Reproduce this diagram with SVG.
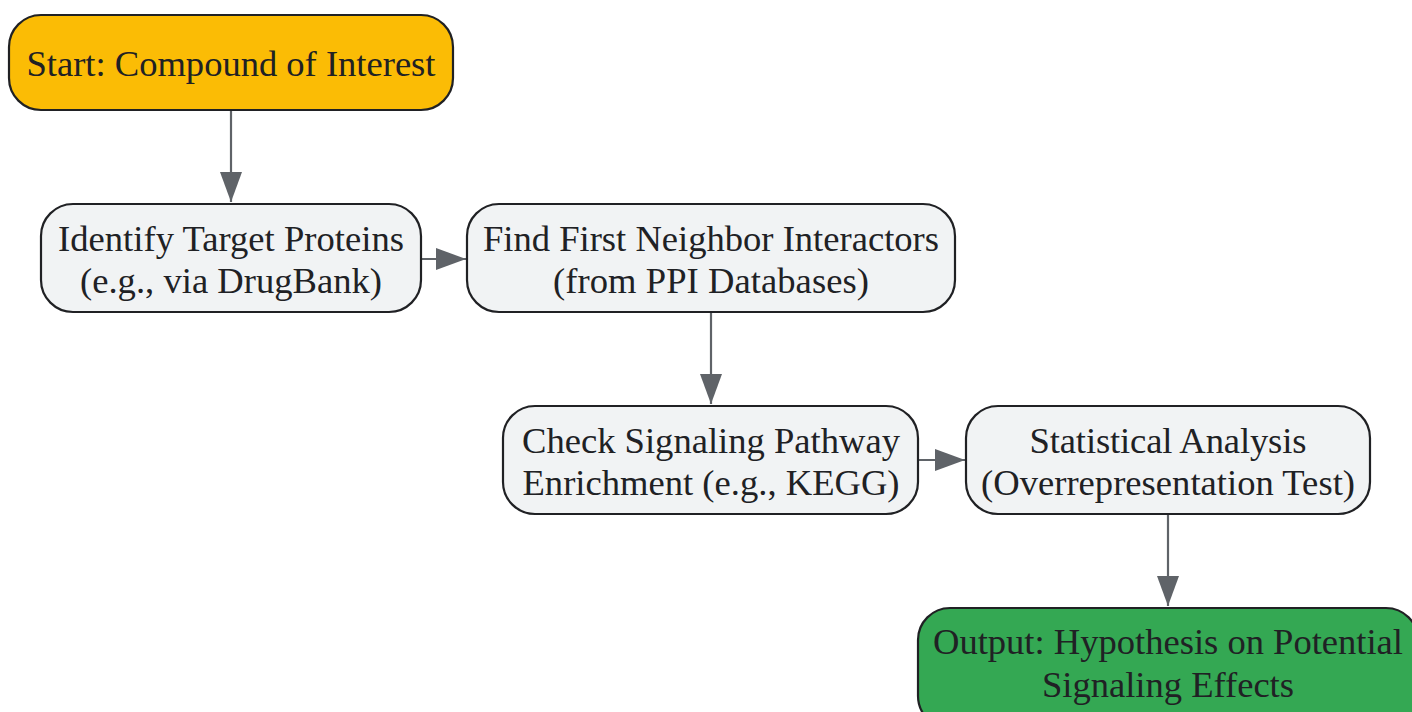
<svg xmlns="http://www.w3.org/2000/svg" width="1412" height="712" viewBox="0 0 1412 712">
<style>
.n{stroke:#202124;stroke-width:2.2}
.t{font-family:"Liberation Serif","Times New Roman",serif;font-size:36.6px;fill:#202124;text-anchor:middle}
.e{stroke:#5F6368;stroke-width:2.2;fill:none}
</style>
<defs>
<marker id="ah" markerWidth="32" markerHeight="24" refX="30" refY="11" orient="auto" markerUnits="userSpaceOnUse">
<path d="M0,0 L30,11 L0,22 Z" fill="#5F6368"/>
</marker>
</defs>
<rect width="1412" height="712" fill="#ffffff"/>
<g id="edges">
<path class="e" d="M231,110 V202" marker-end="url(#ah)"/>
<path class="e" d="M421,259 H466" marker-end="url(#ah)"/>
<path class="e" d="M711,312 V404" marker-end="url(#ah)"/>
<path class="e" d="M918,460 H965" marker-end="url(#ah)"/>
<path class="e" d="M1168,514 V606" marker-end="url(#ah)"/>
</g>
<g id="start">
<rect class="n" x="9" y="15" width="444" height="95" rx="32" fill="#FBBC05"/>
<text class="t" x="231" y="76" textLength="409">Start: Compound of Interest</text>
</g>
<g id="identify">
<rect class="n" x="41" y="204" width="380" height="108" rx="32" fill="#F1F3F4"/>
<text class="t" x="231" y="251" textLength="346">Identify Target Proteins</text>
<text class="t" x="231" y="293" textLength="302">(e.g., via DrugBank)</text>
</g>
<g id="neighbors">
<rect class="n" x="467" y="204" width="488" height="108" rx="32" fill="#F1F3F4"/>
<text class="t" x="711" y="251" textLength="456">Find First Neighbor Interactors</text>
<text class="t" x="711" y="293" textLength="316">(from PPI Databases)</text>
</g>
<g id="pathway">
<rect class="n" x="503" y="406" width="415" height="108" rx="32" fill="#F1F3F4"/>
<text class="t" x="711" y="453" textLength="378">Check Signaling Pathway</text>
<text class="t" x="711" y="495" textLength="377">Enrichment (e.g., KEGG)</text>
</g>
<g id="stats">
<rect class="n" x="966" y="406" width="404" height="108" rx="32" fill="#F1F3F4"/>
<text class="t" x="1168" y="453" textLength="277">Statistical Analysis</text>
<text class="t" x="1168" y="495" textLength="374">(Overrepresentation Test)</text>
</g>
<g id="output">
<rect class="n" x="918" y="608" width="500" height="120" rx="32" fill="#34A853"/>
<text class="t" x="1168" y="654" textLength="470">Output: Hypothesis on Potential</text>
<text class="t" x="1168" y="697" textLength="252">Signaling Effects</text>
</g>
</svg>
